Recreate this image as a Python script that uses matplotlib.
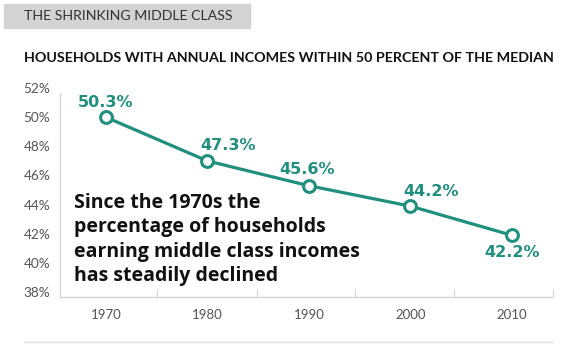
import matplotlib
matplotlib.use("Agg")
import matplotlib.pyplot as plt
from matplotlib.patches import Rectangle
from matplotlib.lines import Line2D
from matplotlib.transforms import ScaledTranslation

years = ["1970", "1980", "1990", "2000", "2010"]
share = [50.3, 47.3, 45.6, 44.2, 42.2]
point_labels = ["50.3%", "47.3%", "45.6%", "44.2%", "42.2%"]
yticks = [38, 40, 42, 44, 46, 48, 50, 52]

TEAL = "#1f8f7e"
GREY = "#555555"
plt.rcParams["font.family"] = ["Lato", "DejaVu Sans"]

fig = plt.figure(figsize=(5.65, 3.5), dpi=100)
W, H = 565, 350

# header box
fig.patches.append(Rectangle((4 / W, 1 - 28 / H), 246 / W, 24 / H,
                             transform=fig.transFigure, color="#d3d3d3", zorder=0))
fig.text(24 / W, 1 - 16.5 / H, "THE SHRINKING MIDDLE CLASS", fontsize=10.2,
         color="#333333", va="center", ha="left")
fig.text(24 / W, 1 - 58.5 / H,
         "HOUSEHOLDS WITH ANNUAL INCOMES WITHIN 50 PERCENT OF THE MEDIAN",
         fontsize=10.25, fontweight="bold", color="#111111", va="center", ha="left")
fig.lines.append(Line2D([24 / W, 553 / W], [1 - 342 / H, 1 - 342 / H],
                        transform=fig.transFigure, color="#dddddd", lw=1))

ax = fig.add_axes([60 / W, 1 - 296.5 / H, 493 / W, 204 / H])
x = list(range(len(years)))
ax.plot(x, share, color=TEAL, lw=2.3, marker="o", markersize=8.5,
        markerfacecolor="white", markeredgecolor=TEAL, markeredgewidth=2.2, zorder=3,
        clip_on=False)

offsets = [(0, 15), (21, 15), (-2, 16), (21, 15), (0, -17)]
for xi, yi, lab, off in zip(x, share, point_labels, offsets):
    ax.annotate(lab, (xi, yi), xytext=off, textcoords="offset pixels",
                ha="center", va="center", color=TEAL, fontsize=11.5,
                fontweight="bold", family=["DejaVu Sans"])

# baseline of the last line sits at y=280 px
fig.text(74 / W, 1 - 281 / H, "Since the 1970s the\npercentage of households\n"
         "earning middle class incomes\nhas steadily declined",
         fontsize=14, fontweight="bold", color="#111111", family=["Open Sans"],
         linespacing=1.3, ha="left", va="baseline")

ax.set_xlim(-0.453, 4.404)
ax.set_ylim(38, 52)
ax.set_xticks(x)
ax.set_xticklabels(years)
ax.set_xticks([0.5, 1.49, 2.45, 3.43, 4.404], minor=True)
ax.set_yticks(yticks)
ax.set_yticklabels([f"{v}%" for v in yticks])
ax.tick_params(axis="x", which="major", length=0, pad=9, labelsize=9.5, labelcolor=GREY)
ax.tick_params(axis="x", which="minor", direction="in", length=6, color="#cccccc")
ax.tick_params(axis="y", length=0, pad=7, labelsize=9.8, labelcolor=GREY)
for lab in ax.get_yticklabels():
    lab.set_transform(lab.get_transform() + ScaledTranslation(0, 4.5 / 100, fig.dpi_scale_trans))
for s in ["top", "right"]:
    ax.spines[s].set_visible(False)
for s in ["left", "bottom"]:
    ax.spines[s].set_color("#d5d5d5")
    ax.spines[s].set_linewidth(1)

fig.savefig("out.png", dpi=100)
